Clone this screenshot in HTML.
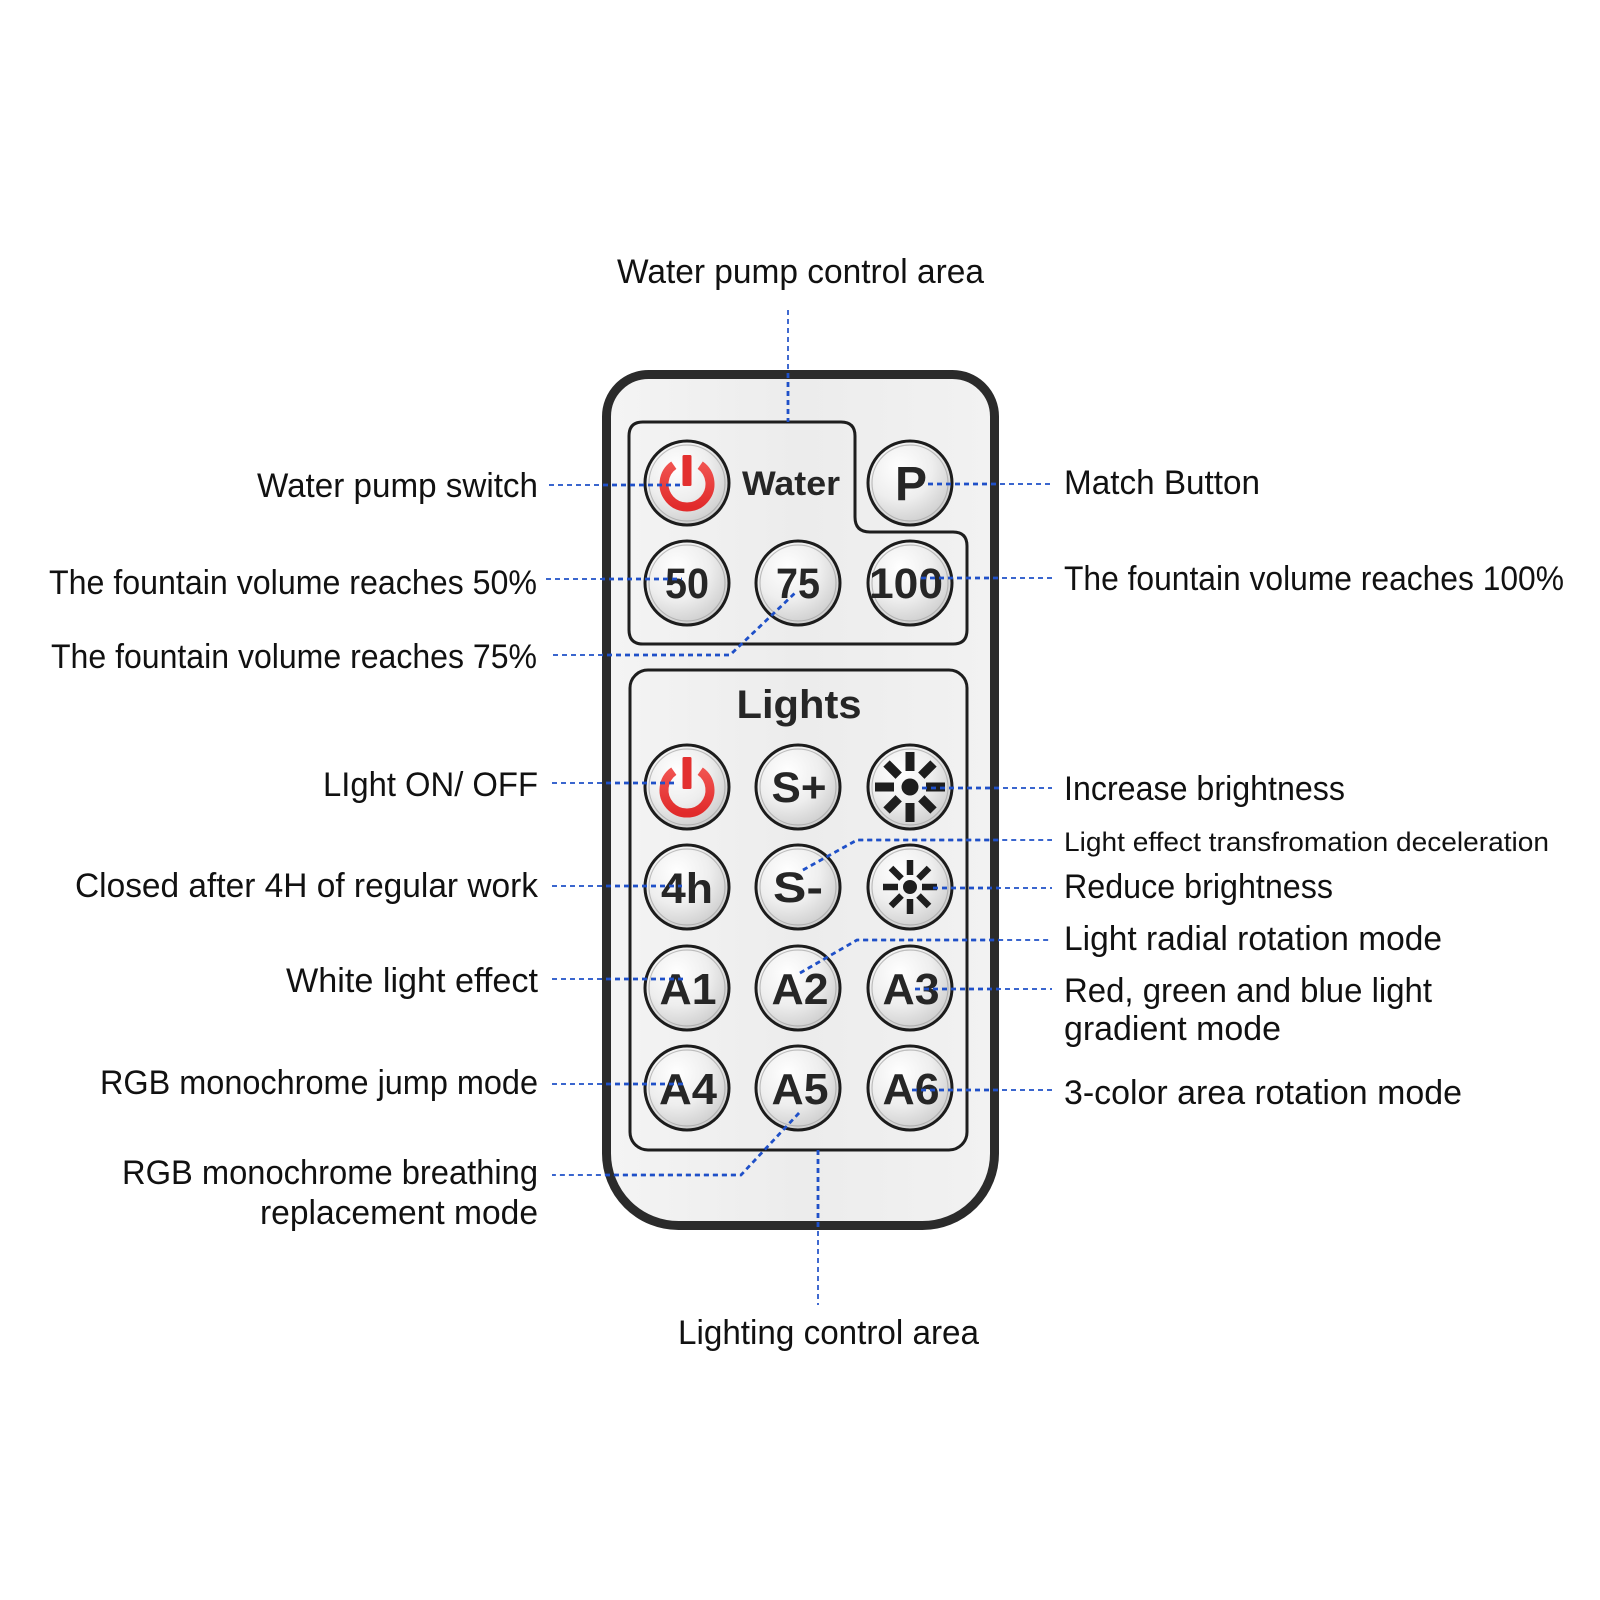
<!DOCTYPE html>
<html>
<head>
<meta charset="utf-8">
<style>
html,body{margin:0;padding:0;background:#ffffff;}
svg{display:block;}
.lbl{font-family:"Liberation Sans",Arial,sans-serif;font-size:34px;fill:#111;}
.sm{font-size:27px;}
.bt{font-family:"Liberation Sans",Arial,sans-serif;font-weight:bold;fill:#262626;text-anchor:middle;}
</style>
</head>
<body>
<svg width="1600" height="1600" viewBox="0 0 1600 1600" xmlns="http://www.w3.org/2000/svg">
<defs>
  <radialGradient id="btn" cx="38%" cy="32%" r="70%">
    <stop offset="0%" stop-color="#ffffff"/>
    <stop offset="55%" stop-color="#eeeeee"/>
    <stop offset="100%" stop-color="#cdcdcd"/>
  </radialGradient>
  <linearGradient id="body" x1="0" y1="0" x2="1" y2="0">
    <stop offset="0%" stop-color="#f4f4f4"/>
    <stop offset="50%" stop-color="#ececec"/>
    <stop offset="100%" stop-color="#f2f2f2"/>
  </linearGradient>
  <linearGradient id="red" x1="0" y1="0" x2="0" y2="1">
    <stop offset="0%" stop-color="#f0524f"/>
    <stop offset="100%" stop-color="#e12b2b"/>
  </linearGradient>
  <clipPath id="remoteClip">
    <path d="M 644 370 H 957 A 42 42 0 0 1 999 412 V 1155 A 75 75 0 0 1 924 1230 H 677 A 75 75 0 0 1 602 1155 V 412 A 42 42 0 0 1 644 370 Z"/>
  </clipPath>
</defs>

<!-- Remote body -->
<path d="M 648.5 374.5 H 952.5 A 42 42 0 0 1 994.5 416.5 V 1153.5 A 72 72 0 0 1 922.5 1225.5 H 678.5 A 72 72 0 0 1 606.5 1153.5 V 416.5 A 42 42 0 0 1 648.5 374.5 Z" fill="url(#body)" stroke="#2b2b2b" stroke-width="9"/>

<!-- Water group box -->
<path d="M 643 422 H 841 Q 855 422 855 436 V 517 Q 855 532 870 532 H 953 Q 967 532 967 546 V 630 Q 967 644 953 644 H 643 Q 629 644 629 630 V 436 Q 629 422 643 422 Z" fill="none" stroke="#1e1e1e" stroke-width="3"/>

<!-- Lights group box -->
<rect x="630" y="670" width="337" height="480" rx="18" ry="18" fill="none" stroke="#1e1e1e" stroke-width="3"/>

<!-- Group labels -->
<text class="bt" x="791" y="495" font-size="34" textLength="98" lengthAdjust="spacingAndGlyphs" style="text-anchor:middle">Water</text>
<text class="bt" x="799" y="718" font-size="40" textLength="125" lengthAdjust="spacingAndGlyphs" style="text-anchor:middle">Lights</text>

<!-- Buttons -->
<g stroke="#1c1c1c" stroke-width="3" fill="url(#btn)">
  <circle cx="687" cy="483" r="42"/>
  <circle cx="910" cy="483" r="42"/>
  <circle cx="687" cy="583" r="42"/>
  <circle cx="798" cy="583" r="42"/>
  <circle cx="910" cy="583" r="42"/>
  <circle cx="687" cy="787" r="42"/>
  <circle cx="798" cy="787" r="42"/>
  <circle cx="910" cy="787" r="42"/>
  <circle cx="687" cy="887" r="42"/>
  <circle cx="798" cy="887" r="42"/>
  <circle cx="910" cy="887" r="42"/>
  <circle cx="687" cy="988" r="42"/>
  <circle cx="798" cy="988" r="42"/>
  <circle cx="910" cy="988" r="42"/>
  <circle cx="687" cy="1088" r="42"/>
  <circle cx="798" cy="1088" r="42"/>
  <circle cx="910" cy="1088" r="42"/>
</g>
<g stroke="#9b9b9b" stroke-width="1.2" fill="none" opacity="0.6">
  <circle cx="687" cy="483" r="38"/>
  <circle cx="910" cy="483" r="38"/>
  <circle cx="687" cy="583" r="38"/>
  <circle cx="798" cy="583" r="38"/>
  <circle cx="910" cy="583" r="38"/>
  <circle cx="687" cy="787" r="38"/>
  <circle cx="798" cy="787" r="38"/>
  <circle cx="910" cy="787" r="38"/>
  <circle cx="687" cy="887" r="38"/>
  <circle cx="798" cy="887" r="38"/>
  <circle cx="910" cy="887" r="38"/>
  <circle cx="687" cy="988" r="38"/>
  <circle cx="798" cy="988" r="38"/>
  <circle cx="910" cy="988" r="38"/>
  <circle cx="687" cy="1088" r="38"/>
  <circle cx="798" cy="1088" r="38"/>
  <circle cx="910" cy="1088" r="38"/>
</g>

<!-- Power icons -->
<g fill="none" stroke="url(#red)" stroke-width="9">
  <path d="M 673.8 465.2 A 23 23 0 1 0 700.2 465.2"/>
  <path d="M 673.8 771.2 A 23 23 0 1 0 700.2 771.2"/>
</g>
<rect x="682.5" y="455" width="9" height="31" rx="1.5" fill="#e3302f"/>
<rect x="682.5" y="757" width="9" height="32" rx="1.5" fill="#e3302f"/>

<!-- Button texts -->
<text class="bt" x="911" y="500" font-size="48">P</text>
<text class="bt" x="687" y="598" font-size="43" textLength="44" lengthAdjust="spacingAndGlyphs">50</text>
<text class="bt" x="798" y="598" font-size="43" textLength="44" lengthAdjust="spacingAndGlyphs">75</text>
<text class="bt" x="906" y="598" font-size="43" textLength="74" lengthAdjust="spacingAndGlyphs">100</text>
<text class="bt" x="799" y="802" font-size="43" textLength="55" lengthAdjust="spacingAndGlyphs">S+</text>
<text class="bt" x="687" y="903" font-size="43" textLength="52" lengthAdjust="spacingAndGlyphs">4h</text>
<text class="bt" x="798" y="902" font-size="43" textLength="50" lengthAdjust="spacingAndGlyphs">S-</text>
<text class="bt" x="688" y="1004" font-size="44" textLength="57" lengthAdjust="spacingAndGlyphs">A1</text>
<text class="bt" x="800" y="1004" font-size="44" textLength="57" lengthAdjust="spacingAndGlyphs">A2</text>
<text class="bt" x="911" y="1004" font-size="44" textLength="57" lengthAdjust="spacingAndGlyphs">A3</text>
<text class="bt" x="688" y="1104" font-size="44" textLength="58" lengthAdjust="spacingAndGlyphs">A4</text>
<text class="bt" x="800" y="1104" font-size="44" textLength="57" lengthAdjust="spacingAndGlyphs">A5</text>
<text class="bt" x="911" y="1104" font-size="44" textLength="57" lengthAdjust="spacingAndGlyphs">A6</text>

<!-- Large sun -->
<g transform="translate(910,787)">
  <circle r="8.5" fill="#1e1e1e"/>
  <g stroke="#1e1e1e" stroke-width="9">
    <line x1="0" y1="-16" x2="0" y2="-35"/>
    <line x1="0" y1="16" x2="0" y2="35"/>
    <line x1="-16" y1="0" x2="-35" y2="0"/>
    <line x1="16" y1="0" x2="35" y2="0"/>
    <line x1="11.3" y1="-11.3" x2="23.5" y2="-23.5"/>
    <line x1="-11.3" y1="-11.3" x2="-23.5" y2="-23.5"/>
    <line x1="11.3" y1="11.3" x2="23.5" y2="23.5"/>
    <line x1="-11.3" y1="11.3" x2="-23.5" y2="23.5"/>
  </g>
</g>
<!-- Small sun -->
<g transform="translate(910,887)">
  <circle r="7" fill="#1e1e1e"/>
  <g stroke="#1e1e1e" stroke-width="6.5">
    <line x1="0" y1="-12" x2="0" y2="-27"/>
    <line x1="0" y1="12" x2="0" y2="27"/>
    <line x1="-12" y1="0" x2="-27" y2="0"/>
    <line x1="12" y1="0" x2="27" y2="0"/>
    <line x1="8.5" y1="-8.5" x2="19" y2="-19"/>
    <line x1="-8.5" y1="-8.5" x2="-19" y2="-19"/>
    <line x1="8.5" y1="8.5" x2="19" y2="19"/>
    <line x1="-8.5" y1="8.5" x2="-19" y2="19"/>
  </g>
</g>

<!-- Connectors (thin, everywhere) -->
<g id="conn" fill="none" stroke="#1f50c8" stroke-width="1.7" stroke-dasharray="5 4">
  <path d="M 788 310 V 422"/>
  <path d="M 549 485 H 680"/>
  <path d="M 928 484 H 1052"/>
  <path d="M 546 579 H 682"/>
  <path d="M 921 578 H 1052"/>
  <path d="M 553 655 H 730 L 795 593"/>
  <path d="M 552 783 H 678"/>
  <path d="M 922 788 H 1052"/>
  <path d="M 803 870 L 857 840 H 1052"/>
  <path d="M 933 888 H 1052"/>
  <path d="M 552 886 H 682"/>
  <path d="M 800 973 L 857 940 H 1052"/>
  <path d="M 915 989 H 1052"/>
  <path d="M 552 979 H 685"/>
  <path d="M 552 1084 H 687"/>
  <path d="M 912 1090 H 1052"/>
  <path d="M 799 1113 L 741 1175 H 552"/>
  <path d="M 818 1150 V 1305"/>
</g>
<!-- Connectors (thicker inside remote) -->
<g clip-path="url(#remoteClip)" fill="none" stroke="#1f50c8" stroke-width="2.8" stroke-dasharray="5 4">
  <path d="M 788 310 V 422"/>
  <path d="M 549 485 H 680"/>
  <path d="M 928 484 H 1052"/>
  <path d="M 546 579 H 682"/>
  <path d="M 921 578 H 1052"/>
  <path d="M 553 655 H 730 L 795 593"/>
  <path d="M 552 783 H 678"/>
  <path d="M 922 788 H 1052"/>
  <path d="M 803 870 L 857 840 H 1052"/>
  <path d="M 933 888 H 1052"/>
  <path d="M 552 886 H 682"/>
  <path d="M 800 973 L 857 940 H 1052"/>
  <path d="M 915 989 H 1052"/>
  <path d="M 552 979 H 685"/>
  <path d="M 552 1084 H 687"/>
  <path d="M 912 1090 H 1052"/>
  <path d="M 799 1113 L 741 1175 H 552"/>
  <path d="M 818 1150 V 1305"/>
</g>

<!-- Top / bottom labels -->
<text class="lbl" x="617" y="283" textLength="367" lengthAdjust="spacingAndGlyphs">Water pump control area</text>
<text class="lbl" x="678" y="1344" textLength="301" lengthAdjust="spacingAndGlyphs">Lighting control area</text>

<!-- Left labels -->
<text class="lbl" x="257" y="497" textLength="281" lengthAdjust="spacingAndGlyphs">Water pump switch</text>
<text class="lbl" x="49" y="594" textLength="488" lengthAdjust="spacingAndGlyphs">The fountain volume reaches 50%</text>
<text class="lbl" x="51" y="668" textLength="486" lengthAdjust="spacingAndGlyphs">The fountain volume reaches 75%</text>
<text class="lbl" x="323" y="796" textLength="215" lengthAdjust="spacingAndGlyphs">LIght ON/ OFF</text>
<text class="lbl" x="75" y="897" textLength="463" lengthAdjust="spacingAndGlyphs">Closed after 4H of regular work</text>
<text class="lbl" x="286" y="992" textLength="252" lengthAdjust="spacingAndGlyphs">White light effect</text>
<text class="lbl" x="100" y="1094" textLength="438" lengthAdjust="spacingAndGlyphs">RGB monochrome jump mode</text>
<text class="lbl" x="122" y="1184" textLength="416" lengthAdjust="spacingAndGlyphs">RGB monochrome breathing</text>
<text class="lbl" x="260" y="1224" textLength="278" lengthAdjust="spacingAndGlyphs">replacement mode</text>

<!-- Right labels -->
<text class="lbl" x="1064" y="494" textLength="196" lengthAdjust="spacingAndGlyphs">Match Button</text>
<text class="lbl" x="1064" y="590" textLength="500" lengthAdjust="spacingAndGlyphs">The fountain volume reaches 100%</text>
<text class="lbl" x="1064" y="800" textLength="281" lengthAdjust="spacingAndGlyphs">Increase brightness</text>
<text class="lbl sm" x="1064" y="851" textLength="485" lengthAdjust="spacingAndGlyphs">Light effect transfromation deceleration</text>
<text class="lbl" x="1064" y="898" textLength="269" lengthAdjust="spacingAndGlyphs">Reduce brightness</text>
<text class="lbl" x="1064" y="950" textLength="378" lengthAdjust="spacingAndGlyphs">Light radial rotation mode</text>
<text class="lbl" x="1064" y="1002" textLength="368" lengthAdjust="spacingAndGlyphs">Red, green and blue light</text>
<text class="lbl" x="1064" y="1040" textLength="217" lengthAdjust="spacingAndGlyphs">gradient mode</text>
<text class="lbl" x="1064" y="1104" textLength="398" lengthAdjust="spacingAndGlyphs">3-color area rotation mode</text>
</svg>
</body>
</html>
